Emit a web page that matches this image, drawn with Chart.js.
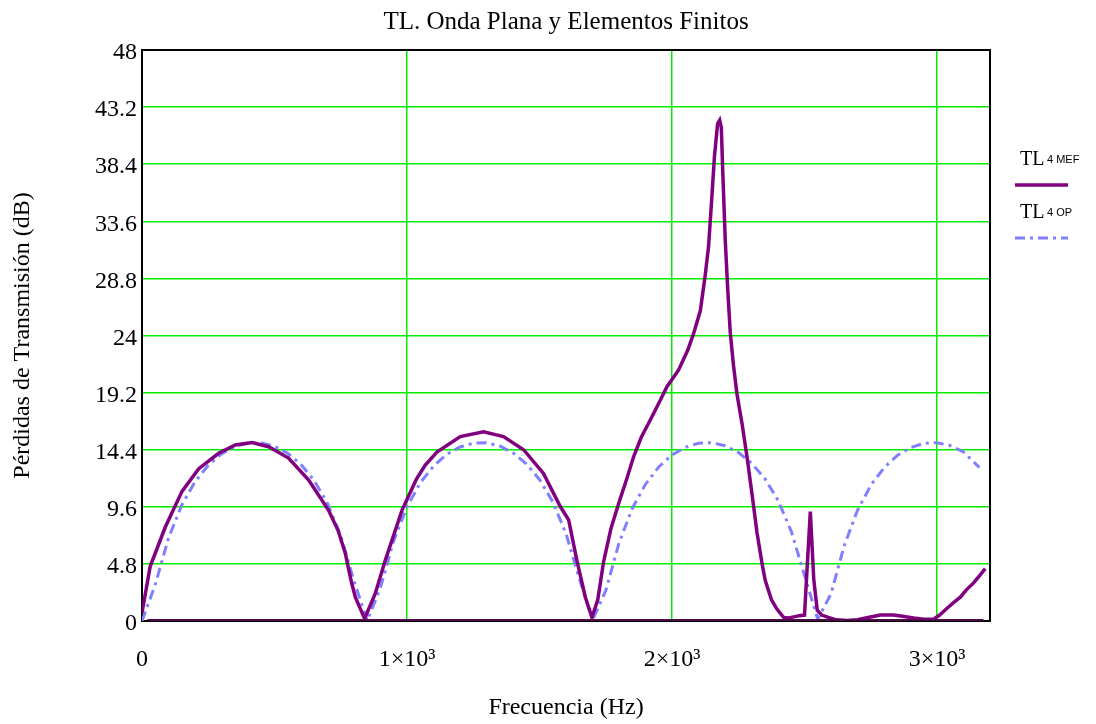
<!DOCTYPE html>
<html>
<head>
<meta charset="utf-8">
<title>TL. Onda Plana y Elementos Finitos</title>
<script src="https://cdn.jsdelivr.net/npm/chart.js@4.4.1/dist/chart.umd.min.js"></script>
<style>
  html, body { margin: 0; padding: 0; background: #fff; }
</style>
</head>
<body>
<canvas id="tl" width="1096" height="724"></canvas>
<script>
// Plane wave (OP) transmission loss, read every 50 Hz
const freqOp = [0, 50, 100, 150, 200, 250, 300, 350, 400, 450, 500, 550, 600, 650, 700, 750, 800, 850,
  900, 950, 1000, 1050, 1100, 1150, 1200, 1250, 1300, 1350, 1400, 1450, 1500, 1550, 1600, 1650, 1700,
  1750, 1800, 1850, 1900, 1950, 2000, 2050, 2100, 2150, 2200, 2250, 2300, 2350, 2400, 2450, 2500, 2550,
  2600, 2650, 2700, 2750, 2800, 2850, 2900, 2950, 3000, 3050, 3100, 3160];
const tlOp = [0, 3.06, 6.96, 9.74, 11.7, 13.09, 14.05, 14.66, 14.96, 14.97, 14.69, 14.1, 13.16, 11.8, 9.88, 7.17, 3.35, 0.02,
  2.81, 6.76, 9.6, 11.61, 13.02, 14.01, 14.63, 14.95, 14.98, 14.71, 14.14, 13.22, 11.9, 10.02, 7.35, 3.58, 0.06,
  2.55, 6.55, 9.46, 11.5, 12.95, 13.96, 14.6, 14.94, 14.99, 14.73, 14.18, 13.27, 11.99, 10.15, 7.54, 3.84, 0.14,
  2.28, 6.34, 9.31, 11.4, 12.88, 13.91, 14.57, 14.93, 14.99, 14.75, 14.21, 12.9];

// Finite element (MEF) transmission loss
const freqMef = [0, 31, 88, 151, 214, 289, 352, 415, 478, 553, 629, 704, 740, 767, 790, 805, 840, 880, 918, 981,
  1035, 1069, 1113, 1201, 1289, 1364, 1440, 1515, 1579, 1610, 1641, 1673, 1698,
  1720, 1742, 1770, 1799, 1830, 1855, 1885, 1918, 1950, 1981, 2025, 2060, 2082, 2107, 2125, 2138, 2150,
  2160, 2172, 2180, 2186, 2192, 2201, 2210, 2220, 2232, 2245, 2265, 2283, 2300, 2321, 2340, 2352, 2375,
  2396, 2421, 2440, 2460, 2480, 2500, 2510, 2522, 2535, 2548, 2565, 2590, 2620, 2660, 2700, 2740, 2786,
  2836, 2870, 2912, 2950, 2987, 3010, 3038, 3060, 3088, 3110, 3138, 3160, 3182];
const tlMef = [0.7, 4.6, 7.9, 10.9, 12.8, 14.1, 14.8, 15.0, 14.65, 13.7, 11.85, 9.3, 7.6, 5.7, 3.3, 2.0, 0.2, 2.3, 5.1, 9.3,
  11.9, 13.1, 14.2, 15.5, 15.9, 15.5, 14.4, 12.4, 9.6, 8.5, 5.1, 2.0, 0.3,
  1.8, 5.0, 7.8, 9.9, 12.0, 13.8, 15.5, 16.9, 18.3, 19.7, 21.1, 22.8, 24.2, 26.1, 29.0, 31.5, 35.5,
  39.0, 41.8, 42.1, 41.5, 37.5, 32.0, 28.0, 24.2, 21.5, 19.1, 16.5, 13.8, 11.0, 7.4, 4.8, 3.4, 1.8,
  1.0, 0.3, 0.25, 0.35, 0.45, 0.5, 4.5, 9.2, 3.5, 0.9, 0.5, 0.3, 0.1, 0.05, 0.1, 0.3, 0.5,
  0.5, 0.4, 0.25, 0.15, 0.15, 0.5, 1.07, 1.5, 2.0, 2.6, 3.2, 3.8, 4.4];

// flat trace lying on the zero line
const freqBase = [20, 3175];
const tlBase = [0, 0];

const xTicks = [0, 1000, 2000, 3000];
const xTickLabels = ['0', '1×10³', '2×10³', '3×10³'];
const yTicks = [0, 4.8, 9.6, 14.4, 19.2, 24, 28.8, 33.6, 38.4, 43.2, 48];
const yTickLabels = ['0', '4.8', '9.6', '14.4', '19.2', '24', '28.8', '33.6', '38.4', '43.2', '48'];

const SERIF = '"Liberation Serif", "Times New Roman", serif';
const SANS = '"Liberation Sans", Arial, sans-serif';
const MEF_COLOR = '#800080';
const OP_COLOR = '#8080ff';
const OP_DASH = [10, 5, 3, 5];
const GRID_COLOR = '#00ee00';

const toPoints = (xs, ys) => xs.map((x, i) => ({ x: x, y: ys[i] }));

// black frame round the plot area
const framePlugin = {
  id: 'frame',
  beforeDatasetsDraw(chart) {
    const { ctx, chartArea: a } = chart;
    ctx.save();
    ctx.strokeStyle = '#000';
    ctx.lineWidth = 2;
    ctx.strokeRect(a.left, a.top, a.right - a.left, a.bottom - a.top);
    ctx.restore();
  }
};

// title centred over the plot area, not the whole canvas
const plotTitle = {
  id: 'plotTitle',
  afterDraw(chart) {
    const { ctx, chartArea: a } = chart;
    ctx.save();
    ctx.fillStyle = '#000';
    ctx.font = '25px ' + SERIF;
    ctx.textAlign = 'center';
    ctx.textBaseline = 'middle';
    ctx.fillText('TL. Onda Plana y Elementos Finitos', (a.left + a.right) / 2, 22);
    ctx.restore();
  }
};

// legend on the right: "TL" with a small subscript, sample line below
const sideLegend = {
  id: 'sideLegend',
  afterDraw(chart) {
    const ctx = chart.ctx;
    const items = [
      { sub: '4 MEF', y: 165, color: MEF_COLOR, dash: [], width: 3.5 },
      { sub: '4 OP', y: 218, color: OP_COLOR, dash: OP_DASH, width: 3 }
    ];
    ctx.save();
    items.forEach(it => {
      ctx.fillStyle = '#000';
      ctx.textBaseline = 'alphabetic';
      ctx.textAlign = 'left';
      ctx.font = '20px ' + SERIF;
      ctx.fillText('TL', 1020, it.y);
      ctx.font = '11px ' + SANS;
      ctx.fillText(it.sub, 1047, it.y - 2);
      ctx.beginPath();
      ctx.setLineDash(it.dash);
      ctx.strokeStyle = it.color;
      ctx.lineWidth = it.width;
      ctx.moveTo(1015, it.y + 20);
      ctx.lineTo(1068, it.y + 20);
      ctx.stroke();
    });
    ctx.restore();
  }
};

new Chart(document.getElementById('tl'), {
  type: 'line',
  data: {
    datasets: [
      {
        label: 'base',
        data: toPoints(freqBase, tlBase),
        borderColor: '#4c0c48',
        borderWidth: 4,
        pointRadius: 0
      },
      {
        label: 'TL 4 MEF',
        data: toPoints(freqMef, tlMef),
        borderColor: MEF_COLOR,
        borderWidth: 3.5,
        pointRadius: 0,
        tension: 0
      },
      {
        label: 'TL 4 OP',
        data: toPoints(freqOp, tlOp),
        borderColor: OP_COLOR,
        borderWidth: 3,
        borderDash: OP_DASH,
        pointRadius: 0,
        tension: 0
      }
    ]
  },
  options: {
    responsive: false,
    animation: false,
    layout: { padding: { left: 0, right: 106, top: 50, bottom: 0 } },
    plugins: {
      legend: { display: false },
      tooltip: { enabled: false },
      title: { display: false }
    },
    scales: {
      x: {
        type: 'linear',
        min: 0,
        max: 3200,
        afterBuildTicks: scale => { scale.ticks = xTicks.map(v => ({ value: v })); },
        afterFit: scale => { scale.height = 103; },
        ticks: {
          autoSkip: false,
          maxRotation: 0,
          padding: 24,
          color: '#000',
          font: { family: SERIF, size: 24 },
          callback: (value, index) => xTickLabels[index]
        },
        grid: { color: GRID_COLOR, lineWidth: 1.5, drawTicks: false },
        border: { display: false },
        title: {
          display: true,
          text: 'Frecuencia (Hz)',
          color: '#000',
          font: { family: SERIF, size: 24 },
          padding: { top: 0, bottom: 2 }
        }
      },
      y: {
        min: 0,
        max: 48,
        afterBuildTicks: scale => { scale.ticks = yTicks.map(v => ({ value: v })); },
        afterFit: scale => { scale.width = 142; },
        ticks: {
          autoSkip: false,
          padding: 5,
          labelOffset: 3,
          color: '#000',
          font: { family: SERIF, size: 24 },
          callback: (value, index) => yTickLabels[index]
        },
        grid: { color: GRID_COLOR, lineWidth: 1.5, drawTicks: false },
        border: { display: false },
        title: {
          display: true,
          text: 'Pérdidas de Transmisión (dB)',
          color: '#000',
          font: { family: SERIF, size: 24 },
          padding: { top: 8, bottom: 0 }
        }
      }
    }
  },
  plugins: [framePlugin, plotTitle, sideLegend]
});
</script>
</body>
</html>
